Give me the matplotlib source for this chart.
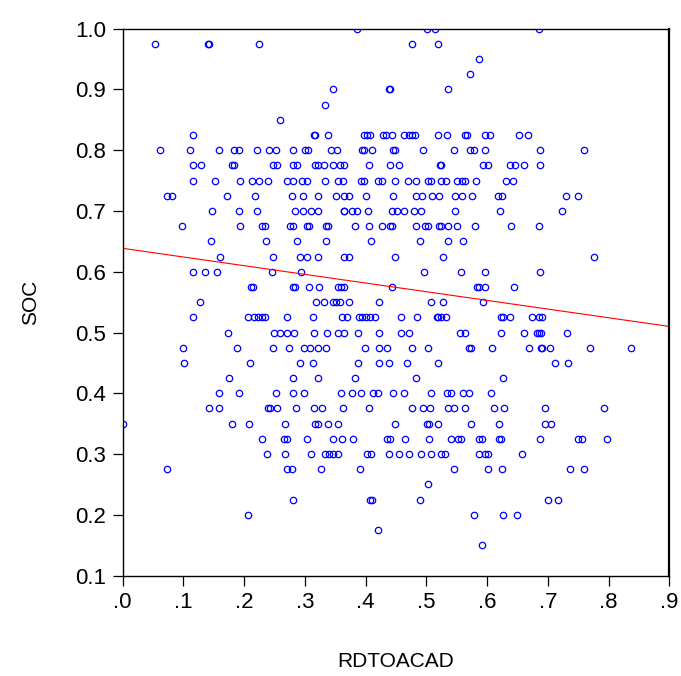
import matplotlib
matplotlib.use('Agg')
import matplotlib.pyplot as plt

plt.rcParams['font.family'] = ['Liberation Sans', 'DejaVu Sans']

# SOC levels (y) and the RDTOACAD values (x) of the points sitting on each level
soc_levels = [1.0, 0.975, 0.95, 0.925, 0.9, 0.875, 0.85, 0.825, 0.8, 0.775,
              0.75, 0.725, 0.7, 0.675, 0.65, 0.625, 0.6, 0.575, 0.55, 0.525,
              0.5, 0.475, 0.45, 0.425, 0.4, 0.375, 0.35, 0.325, 0.3, 0.275,
              0.25, 0.225, 0.2, 0.175, 0.15]

rdtoacad_by_level = [
    [0.386, 0.502, 0.514, 0.685],
    [0.054, 0.141, 0.143, 0.224, 0.477, 0.520],
    [0.586],
    [0.572],
    [0.347, 0.438, 0.440, 0.535],
    [0.334],
    [0.259],
    [0.116, 0.315, 0.317, 0.338, 0.397, 0.402, 0.407, 0.428, 0.433, 0.444,
     0.464, 0.471, 0.476, 0.482, 0.519, 0.534, 0.563, 0.567, 0.597, 0.605,
     0.653, 0.668],
    [0.062, 0.111, 0.158, 0.184, 0.191, 0.221, 0.241, 0.252, 0.280, 0.300,
     0.306, 0.343, 0.353, 0.394, 0.398, 0.410, 0.446, 0.449, 0.495, 0.545,
     0.572, 0.578, 0.597, 0.688, 0.759],
    [0.116, 0.129, 0.180, 0.184, 0.248, 0.254, 0.280, 0.287, 0.317, 0.322,
     0.332, 0.347, 0.358, 0.365, 0.405, 0.440, 0.455, 0.523, 0.524, 0.594,
     0.602, 0.638, 0.646, 0.661, 0.687],
    [0.116, 0.152, 0.193, 0.213, 0.224, 0.239, 0.271, 0.280, 0.295, 0.304,
     0.334, 0.354, 0.363, 0.393, 0.397, 0.421, 0.427, 0.449, 0.470, 0.483,
     0.503, 0.508, 0.525, 0.533, 0.550, 0.558, 0.563, 0.582, 0.632, 0.643],
    [0.074, 0.081, 0.172, 0.218, 0.279, 0.297, 0.322, 0.351, 0.364, 0.372,
     0.401, 0.445, 0.483, 0.493, 0.509, 0.521, 0.547, 0.558, 0.576, 0.618,
     0.625, 0.730, 0.749],
    [0.148, 0.192, 0.221, 0.284, 0.297, 0.310, 0.321, 0.364, 0.365, 0.377,
     0.386, 0.404, 0.443, 0.451, 0.464, 0.479, 0.491, 0.547, 0.621, 0.724],
    [0.098, 0.193, 0.229, 0.235, 0.276, 0.281, 0.303, 0.307, 0.335, 0.339,
     0.383, 0.405, 0.427, 0.440, 0.443, 0.483, 0.498, 0.503, 0.521, 0.524,
     0.536, 0.550, 0.580, 0.640, 0.686],
    [0.146, 0.236, 0.287, 0.335, 0.409, 0.490, 0.536, 0.561],
    [0.161, 0.247, 0.292, 0.304, 0.321, 0.365, 0.372, 0.448, 0.527, 0.776],
    [0.116, 0.135, 0.155, 0.246, 0.294, 0.497, 0.557, 0.597, 0.687],
    [0.211, 0.215, 0.280, 0.284, 0.307, 0.324, 0.355, 0.359, 0.364, 0.444,
     0.583, 0.586, 0.597, 0.645],
    [0.128, 0.318, 0.331, 0.347, 0.351, 0.358, 0.372, 0.423, 0.508, 0.527,
     0.593],
    [0.116, 0.206, 0.217, 0.223, 0.229, 0.235, 0.270, 0.313, 0.361, 0.370,
     0.389, 0.394, 0.401, 0.407, 0.415, 0.458, 0.484, 0.517, 0.520, 0.525,
     0.532, 0.623, 0.627, 0.638, 0.674, 0.685, 0.691],
    [0.173, 0.249, 0.259, 0.270, 0.283, 0.316, 0.337, 0.354, 0.365, 0.388,
     0.422, 0.458, 0.471, 0.556, 0.563, 0.623, 0.661, 0.682, 0.685, 0.689,
     0.732],
    [0.100, 0.189, 0.248, 0.274, 0.298, 0.309, 0.321, 0.335, 0.399, 0.422,
     0.435, 0.476, 0.503, 0.570, 0.573, 0.609, 0.669, 0.689, 0.691, 0.703,
     0.770, 0.837],
    [0.101, 0.210, 0.292, 0.314, 0.387, 0.422, 0.439, 0.468, 0.519, 0.712,
     0.733],
    [0.175, 0.280, 0.321, 0.383, 0.483, 0.627],
    [0.159, 0.192, 0.253, 0.280, 0.298, 0.360, 0.378, 0.393, 0.413, 0.421,
     0.446, 0.464, 0.508, 0.534, 0.541, 0.561, 0.570, 0.607],
    [0.142, 0.159, 0.239, 0.242, 0.255, 0.285, 0.316, 0.329, 0.363, 0.405,
     0.476, 0.495, 0.506, 0.535, 0.545, 0.564, 0.612, 0.628, 0.696, 0.793],
    [0.000, 0.180, 0.209, 0.268, 0.317, 0.322, 0.338, 0.355, 0.448, 0.502,
     0.505, 0.520, 0.574, 0.620, 0.696, 0.705],
    [0.229, 0.266, 0.270, 0.304, 0.347, 0.361, 0.380, 0.435, 0.440, 0.465,
     0.505, 0.541, 0.553, 0.557, 0.586, 0.592, 0.620, 0.623, 0.688, 0.749,
     0.756, 0.797],
    [0.238, 0.268, 0.310, 0.333, 0.340, 0.347, 0.355, 0.402, 0.409, 0.439,
     0.455, 0.471, 0.491, 0.507, 0.524, 0.530, 0.587, 0.596, 0.602, 0.658],
    [0.073, 0.270, 0.279, 0.326, 0.391, 0.546, 0.602, 0.624, 0.737, 0.760],
    [0.503],
    [0.280, 0.407, 0.411, 0.490, 0.700, 0.716],
    [0.206, 0.579, 0.626, 0.650],
    [0.420],
    [0.591],
]

# fitted regression line
fit_intercept = 0.6385
fit_slope = -0.1428

x_ticks = [0.0, 0.1, 0.2, 0.3, 0.4, 0.5, 0.6, 0.7, 0.8, 0.9]
x_tick_labels = ['.0', '.1', '.2', '.3', '.4', '.5', '.6', '.7', '.8', '.9']
y_ticks = [0.1, 0.2, 0.3, 0.4, 0.5, 0.6, 0.7, 0.8, 0.9, 1.0]
y_tick_labels = ['0.1', '0.2', '0.3', '0.4', '0.5', '0.6', '0.7', '0.8', '0.9', '1.0']

xs, ys = [], []
for level, row in zip(soc_levels, rdtoacad_by_level):
    for v in row:
        xs.append(v)
        ys.append(level)

fig = plt.figure(figsize=(6.81, 6.76), dpi=100)
ax = fig.add_axes([0.1799, 0.1484, 0.8029, 0.8094])

ax.plot(xs, ys, linestyle='none', marker='o', markersize=4.6,
        markerfacecolor='none', markeredgecolor='#0000ff', markeredgewidth=0.9)

line_x = [0.0, 0.9]
line_y = [fit_intercept + fit_slope * v for v in line_x]
ax.plot(line_x, line_y, color='#ff0000', linewidth=0.8)

ax.set_xlim(0.0, 0.9)
ax.set_ylim(0.1, 1.0)
ax.set_xticks(x_ticks)
ax.set_xticklabels(x_tick_labels)
ax.set_yticks(y_ticks)
ax.set_yticklabels(y_tick_labels)
ax.tick_params(direction='out', length=7, width=0.9, labelsize=16, pad=5)

for s in ax.spines.values():
    s.set_linewidth(1.0)
ax.spines['right'].set_linewidth(1.6)

ax.set_xlabel('RDTOACAD', fontsize=15, labelpad=28)
ax.set_ylabel('SOC', fontsize=15, labelpad=25)

fig.savefig('out.png', dpi=100)
